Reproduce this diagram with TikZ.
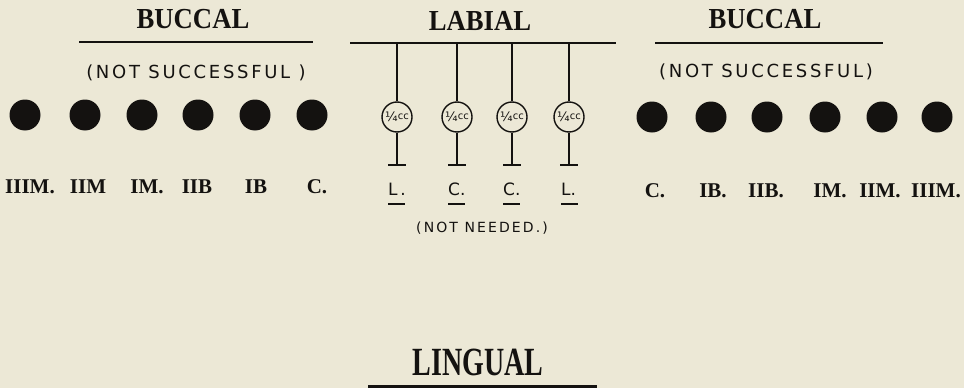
\documentclass[tikz,border=0pt]{standalone}
\usepackage{fontspec}
\setmainfont{Liberation Serif}
\newfontfamily\titlefont[FakeStretch=0.92]{Liberation Serif Bold}
\newfontfamily\lingfont[FakeStretch=0.70]{Liberation Serif Bold}
\newfontfamily\handfont[LetterSpace=15]{DejaVu Sans}
\newfontfamily\handplain{DejaVu Sans}
\newfontfamily\lblfont{Liberation Serif Bold}
\definecolor{paper}{RGB}{236,232,214}
\definecolor{ink}{RGB}{20,18,16}
\tikzset{
  title/.style={anchor=base, inner sep=0pt, text=ink, font=\titlefont\fontsize{29}{29}\selectfont},
  rule/.style={draw=ink, line width=2.6pt},
  note/.style={anchor=base, inner sep=0pt, text=ink, font=\handfont\fontsize{18}{18}\selectfont},
  tooth/.style={circle, fill=ink, minimum size=31pt, inner sep=0pt},
  toothlbl/.style={anchor=base, inner sep=0pt, text=ink, font=\lblfont\fontsize{21}{21}\selectfont},
  inj/.style={circle, draw=ink, line width=1.4pt, minimum size=30pt, inner sep=0pt, text=ink, font=\handplain\fontsize{13}{13}\selectfont},
  stem/.style={draw=ink, line width=1.7pt},
  lablbl/.style={anchor=base west, inner sep=0pt, text=ink, font=\handplain\fontsize{17}{17}\selectfont},
}
\newcommand{\qcc}{¼\raisebox{2.5pt}{\fontsize{10}{10}\selectfont cc}}
\begin{document}
\begin{tikzpicture}[x=1pt,y=-1pt]
\fill[paper] (0,0) rectangle (964,388);
\useasboundingbox (0,0) rectangle (964,388);

% ---- left buccal
\node[title] (tB1) at (193,28) {BUCCAL};
\coordinate (rB1a) at (79,42); \coordinate (rB1b) at (313,42);
\draw[rule] (rB1a) -- (rB1b);
\node[note] (nB1) at (196,78) {(NOT SUCCESSFUL )};
\foreach \x [count=\i] in {25,85,142,198,255,312} {
  \node[tooth] (dl\i) at (\x,115) {};
}
\node[toothlbl] (ll1) at (30,193) {IIIM.};
\node[toothlbl] (ll2) at (88,193) {IIM};
\node[toothlbl] (ll3) at (147,193) {IM.};
\node[toothlbl] (ll4) at (197,193) {IIB};
\node[toothlbl] (ll5) at (256,193) {IB};
\node[toothlbl] (ll6) at (317,193) {C.};

% ---- labial
\node[title] (tL) at (480,30) {LABIAL};
\coordinate (rLa) at (350,43); \coordinate (rLb) at (616,43);
\draw[rule] (rLa) -- (rLb);
\foreach \x [count=\i] in {397,457,512,569} {
  \coordinate (top\i) at (\x,43);
  \node[inj] (c\i) at (\x,117) {\qcc};
  \coordinate (bot\i) at (\x,165);
  \draw[stem] (top\i) -- (c\i.north);
  \draw[stem] (c\i.south) -- (bot\i);
  \draw[stem] ([xshift=-9pt]bot\i) -- ([xshift=9pt]bot\i);
}
\node[lablbl] (b1) at (388,195) {L\,.};
\node[lablbl] (b2) at (448,195) {C.};
\node[lablbl] (b3) at (503,195) {C.};
\node[lablbl] (b4) at (561,195) {L.};
\foreach \i in {1,...,4} {
  \draw[ink, line width=1.7pt] ([yshift=-9pt]b\i.base west) -- ++(17,0);
}
\node[note, font=\handfont\fontsize{14}{14}\selectfont] (nn) at (482,232) {(NOT NEEDED.)};

% ---- right buccal
\node[title] (tB2) at (765,28) {BUCCAL};
\coordinate (rB2a) at (655,43); \coordinate (rB2b) at (883,43);
\draw[rule] (rB2a) -- (rB2b);
\node[note] (nB2) at (766,77) {(NOT SUCCESSFUL)};
\foreach \x [count=\i] in {652,711,767,825,882,937} {
  \node[tooth] (dr\i) at (\x,117) {};
}
\node[toothlbl] (lr1) at (655,197) {C.};
\node[toothlbl] (lr2) at (713,197) {IB.};
\node[toothlbl] (lr3) at (766,197) {IIB.};
\node[toothlbl] (lr4) at (830,197) {IM.};
\node[toothlbl] (lr5) at (880,197) {IIM.};
\node[toothlbl] (lr6) at (936,197) {IIIM.};

% ---- lingual
\node[title, font=\lingfont\fontsize{40}{40}\selectfont] (tLi) at (478,375) {LINGUAL};
\coordinate (rLia) at (368,386); \coordinate (rLib) at (597,386);
\draw[rule, line width=3pt] (rLia) -- (rLib);
\end{tikzpicture}
\end{document}
